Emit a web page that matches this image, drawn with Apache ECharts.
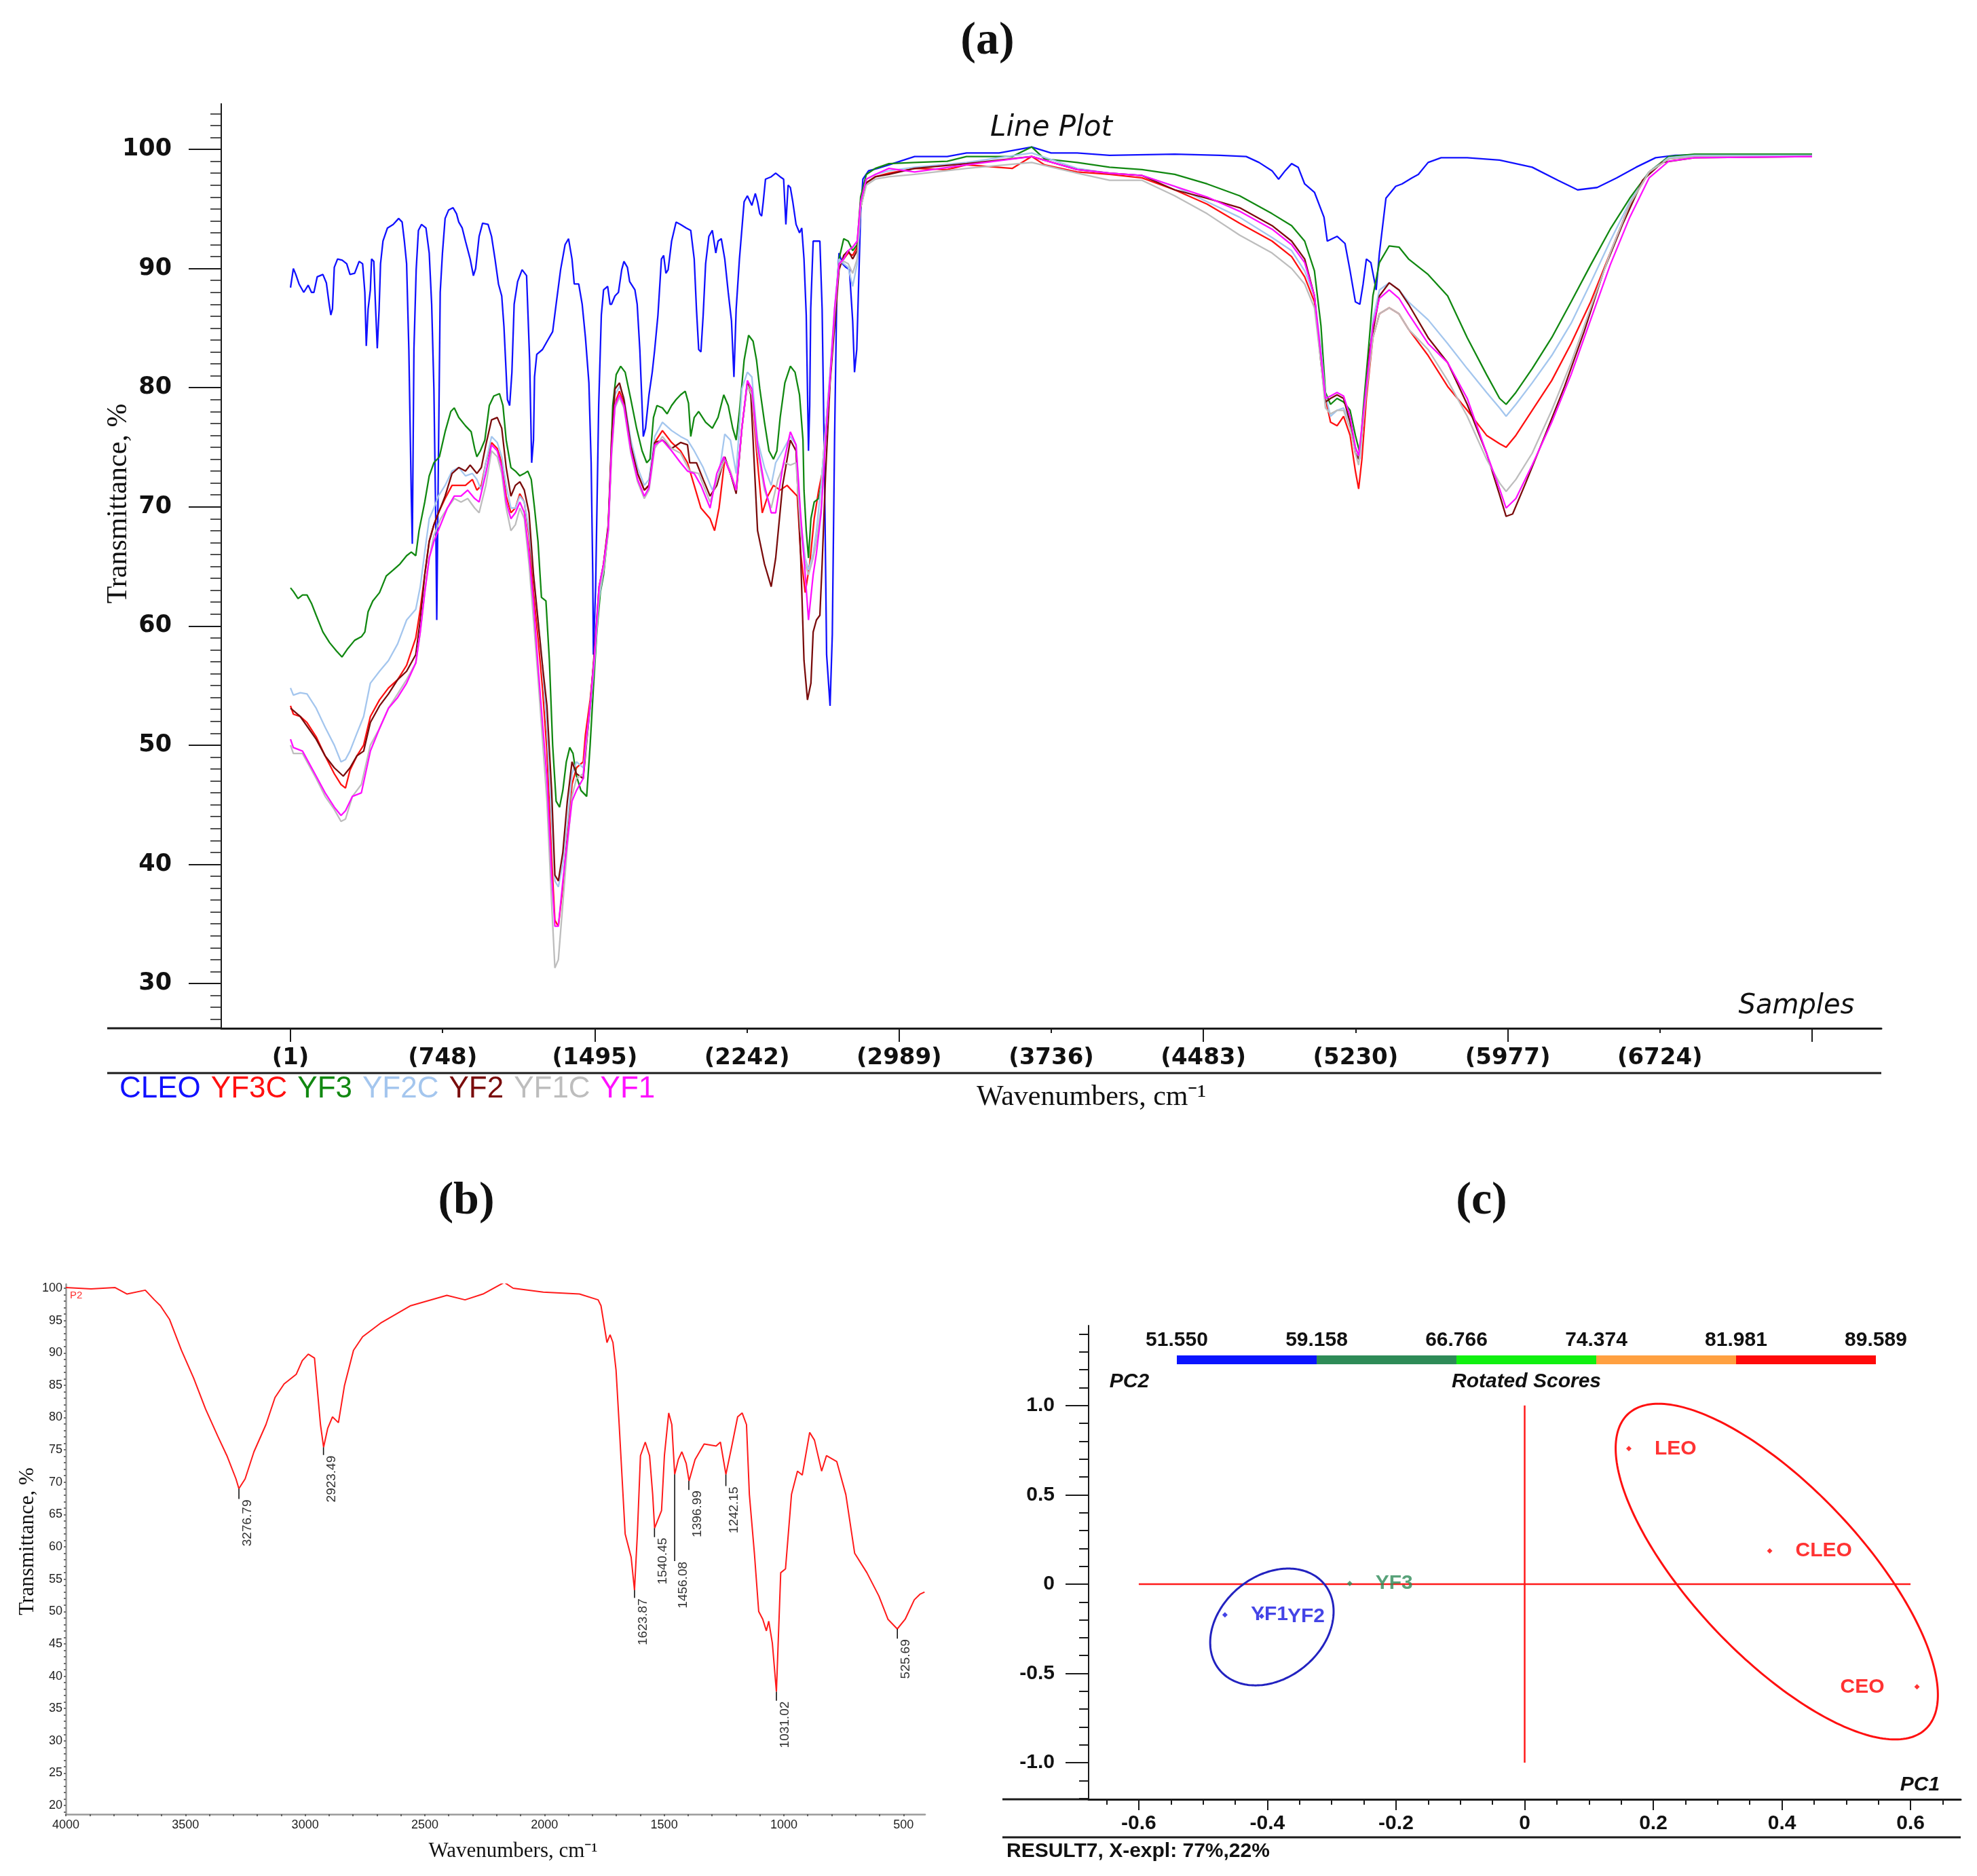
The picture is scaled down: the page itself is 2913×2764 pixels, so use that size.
<!DOCTYPE html>
<html><head><meta charset="utf-8">
<script src="https://cdn.jsdelivr.net/npm/echarts@6/dist/echarts.min.js"></script>
<style>html,body{margin:0;padding:0;background:#fff}#c{width:2913px;height:2764px}</style>
</head><body><div id="c"></div>
<script>
// ---------- Panel (a): FTIR line plot, x = sample index, y = transmittance % ----------
const seriesNames = ['CLEO','YF3C','YF3','YF2C','YF2','YF1C','YF1'];
const sampleTicks = [1,748,1495,2242,2989,3736,4483,5230,5977,6724];
const cleo = [[1,88.4],[15,90.0],[27,89.5],[43,88.7],[66,88.0],[88,88.6],[104,88.0],[116,88.0],[132,89.3],[160,89.5],[177,88.8],[191,87.0],[199,86.1],[207,86.6],[216,90.1],[232,90.8],[255,90.7],[277,90.4],[293,89.5],[316,89.6],[338,90.6],[355,90.4],[366,88.0],[373,83.5],[382,86.6],[393,88.2],[399,90.8],[410,90.6],[418,87.0],[427,83.3],[436,86.6],[443,90.4],[455,92.3],[477,93.4],[505,93.7],[532,94.2],[549,93.9],[560,92.3],[571,90.4],[582,83.2],[594,70.9],[599,66.9],[607,83.2],[618,89.9],[629,93.2],[644,93.7],[666,93.4],[682,91.3],[694,87.0],[705,79.9],[714,69.0],[719,60.5],[727,73.7],[736,88.0],[747,91.3],[760,94.2],[777,94.9],[799,95.1],[816,94.6],[827,93.9],[844,93.4],[860,92.3],[883,90.8],[899,89.4],[910,90.0],[927,92.7],[944,93.8],[971,93.7],[988,92.7],[1005,90.8],[1022,88.7],[1038,87.7],[1049,85.1],[1066,79.0],[1077,78.5],[1088,81.3],[1099,87.0],[1116,88.9],[1138,89.9],[1160,89.4],[1166,86.6],[1175,82.3],[1185,73.7],[1194,75.6],[1199,80.9],[1210,82.8],[1238,83.2],[1261,83.9],[1288,84.7],[1305,87.0],[1327,89.9],[1349,92.0],[1366,92.5],[1383,90.8],[1394,88.7],[1416,88.7],[1433,87.0],[1449,84.2],[1466,80.4],[1477,73.7],[1485,64.3],[1488,57.6],[1499,63.3],[1514,78.5],[1527,86.1],[1538,88.2],[1558,88.5],[1570,87.0],[1577,87.0],[1594,87.7],[1611,88.0],[1627,89.9],[1638,90.6],[1655,90.1],[1666,88.9],[1692,88.2],[1703,87.0],[1716,83.2],[1727,78.5],[1733,75.9],[1744,76.6],[1761,79.4],[1777,81.3],[1789,83.2],[1805,86.1],[1822,90.8],[1833,91.1],[1844,89.6],[1855,89.9],[1872,92.3],[1894,93.9],[1916,93.7],[1944,93.4],[1966,93.2],[1983,90.8],[1994,86.6],[2005,83.2],[2016,83.0],[2027,86.1],[2039,90.4],[2055,92.7],[2072,93.2],[2089,91.3],[2100,92.3],[2116,92.5],[2133,90.8],[2150,88.0],[2166,85.6],[2178,80.9],[2189,86.6],[2205,90.8],[2228,95.6],[2244,96.1],[2266,95.3],[2283,96.3],[2294,95.6],[2305,94.6],[2314,94.4],[2322,95.6],[2333,97.5],[2361,97.7],[2383,98.0],[2405,97.7],[2422,97.5],[2433,93.7],[2444,97.0],[2455,96.8],[2467,95.6],[2483,93.7],[2500,93.0],[2511,93.4],[2522,90.8],[2533,86.1],[2544,74.7],[2550,78.5],[2555,86.6],[2567,92.3],[2600,92.3],[2611,86.6],[2622,73.7],[2633,57.6],[2650,53.3],[2661,59.3],[2672,75.6],[2683,88.0],[2694,91.3],[2711,90.4],[2728,90.1],[2745,89.9],[2761,85.6],[2770,81.3],[2781,83.2],[2789,88.0],[2800,94.6],[2811,97.5],[2839,98.2],[2883,98.4],[2939,98.7],[3065,99.4],[3225,99.4],[3320,99.7],[3480,99.7],[3640,100.2],[3735,99.7],[3863,99.7],[4022,99.5],[4342,99.6],[4565,99.5],[4693,99.4],[4756,98.9],[4820,98.2],[4852,97.5],[4884,98.2],[4916,98.8],[4948,98.5],[4980,97.1],[5028,96.4],[5075,94.3],[5091,92.3],[5139,92.7],[5178,92.1],[5203,89.8],[5229,87.2],[5251,87.0],[5267,88.7],[5283,90.8],[5305,90.5],[5331,88.2],[5347,91.3],[5379,95.9],[5427,96.9],[5458,97.1],[5506,97.6],[5538,97.9],[5586,98.9],[5650,99.3],[5778,99.3],[5937,99.1],[6097,98.5],[6224,97.4],[6320,96.6],[6416,96.8],[6511,97.6],[6607,98.5],[6703,99.3],[6799,99.5],[7054,99.6],[7471,99.6]];
const yf3c = [[1,53.3],[15,52.6],[49,52.4],[82,51.9],[127,50.7],[171,49.1],[216,47.6],[249,46.7],[271,46.4],[293,47.9],[327,49.1],[360,50.0],[393,52.4],[438,53.8],[482,54.8],[527,55.5],[571,56.7],[616,59.0],[638,61.4],[660,64.3],[682,67.1],[705,68.5],[727,69.5],[760,70.7],[794,71.8],[827,71.8],[860,71.8],[894,72.3],[916,71.4],[938,71.8],[960,73.7],[988,75.4],[1016,74.9],[1038,73.7],[1060,70.9],[1083,69.5],[1105,69.9],[1127,71.1],[1149,70.4],[1172,67.6],[1194,62.8],[1216,59.0],[1238,54.8],[1260,49.5],[1283,40.5],[1299,35.3],[1316,34.8],[1338,38.1],[1360,42.4],[1383,46.7],[1405,48.1],[1438,48.6],[1449,50.9],[1472,53.8],[1494,57.6],[1516,62.8],[1538,65.2],[1561,68.3],[1577,74.7],[1594,78.7],[1616,79.7],[1638,78.7],[1672,75.1],[1705,72.8],[1738,71.4],[1761,71.8],[1789,75.4],[1827,76.4],[1872,75.4],[1916,74.7],[1950,73.7],[1983,71.8],[2016,69.9],[2061,69.0],[2083,68.0],[2105,69.9],[2133,74.0],[2161,72.8],[2189,71.4],[2217,76.6],[2244,80.4],[2266,79.4],[2294,73.7],[2317,69.5],[2344,70.9],[2372,71.8],[2405,71.4],[2439,71.8],[2461,71.4],[2489,70.9],[2505,66.2],[2528,62.8],[2550,65.2],[2572,69.0],[2594,71.4],[2611,72.8],[2628,76.6],[2650,80.9],[2672,86.1],[2694,90.4],[2717,90.8],[2739,91.3],[2761,91.1],[2783,91.8],[2800,95.6],[2828,97.2],[2872,97.7],[2939,98.0],[3065,98.4],[3225,98.3],[3320,98.7],[3544,98.4],[3640,99.4],[3703,98.7],[3863,98.1],[4022,97.9],[4182,97.6],[4342,96.6],[4501,95.4],[4661,93.8],[4820,92.3],[4916,91.0],[4980,89.3],[5028,87.2],[5060,82.7],[5082,79.1],[5107,77.1],[5139,76.8],[5171,77.6],[5203,76.0],[5229,73.0],[5245,71.5],[5261,74.0],[5283,79.1],[5315,84.2],[5347,86.2],[5395,86.7],[5443,86.2],[5490,84.9],[5586,82.7],[5682,80.1],[5778,78.1],[5873,76.0],[5937,75.3],[5969,75.0],[6017,76.0],[6097,78.1],[6193,80.6],[6288,83.7],[6384,87.2],[6480,91.3],[6576,95.4],[6671,98.1],[6767,99.2],[6894,99.4],[7471,99.4]];
const yf3 = [[1,63.2],[15,62.9],[38,62.3],[60,62.6],[82,62.6],[104,61.9],[127,60.9],[160,59.5],[193,58.6],[227,57.9],[254,57.4],[282,58.1],[316,58.8],[349,59.1],[366,59.5],[382,61.2],[405,62.1],[438,62.8],[471,64.2],[505,64.7],[538,65.2],[571,65.9],[594,66.2],[616,65.9],[632,68.0],[660,70.4],[682,72.6],[705,73.7],[732,74.2],[760,76.3],[788,78.0],[805,78.3],[827,77.5],[860,76.8],[888,76.3],[905,74.9],[916,74.2],[933,74.7],[955,75.6],[977,78.5],[999,79.3],[1027,79.5],[1044,78.5],[1060,75.6],[1083,73.3],[1105,73.0],[1127,72.6],[1149,72.8],[1166,73.0],[1183,72.3],[1199,69.9],[1216,67.1],[1233,62.4],[1255,62.1],[1272,57.1],[1288,50.0],[1305,45.3],[1322,44.8],[1338,46.2],[1355,48.6],[1372,49.8],[1388,49.3],[1405,47.4],[1427,46.2],[1455,45.7],[1472,50.0],[1488,54.8],[1505,59.5],[1522,62.8],[1538,64.3],[1561,68.1],[1572,72.8],[1583,78.5],[1600,81.1],[1622,81.8],[1644,81.3],[1672,79.0],[1700,76.6],[1727,74.7],[1750,73.7],[1766,74.0],[1783,77.5],[1800,78.5],[1827,78.3],[1850,77.8],[1872,78.5],[1894,79.0],[1916,79.4],[1939,79.7],[1955,78.7],[1966,75.9],[1983,77.5],[2005,78.0],[2039,77.1],[2072,76.6],[2100,77.5],[2128,79.4],[2150,78.5],[2172,76.6],[2189,75.6],[2205,78.0],[2228,82.3],[2250,84.4],[2272,83.9],[2289,82.3],[2305,79.9],[2328,77.1],[2350,74.7],[2372,74.0],[2389,74.7],[2405,77.5],[2428,80.4],[2455,81.8],[2478,81.3],[2500,79.4],[2517,75.6],[2522,71.4],[2533,68.0],[2544,65.7],[2556,69.0],[2572,70.4],[2594,70.7],[2611,72.3],[2628,75.6],[2650,80.9],[2672,86.1],[2694,90.8],[2717,92.5],[2739,92.3],[2761,91.5],[2783,92.0],[2800,96.0],[2828,97.9],[2872,98.4],[2939,98.8],[3065,98.9],[3225,99.0],[3320,99.4],[3544,99.4],[3640,100.2],[3703,99.2],[3863,98.9],[4022,98.5],[4182,98.3],[4342,97.9],[4501,97.1],[4661,96.1],[4820,94.6],[4916,93.6],[4980,92.3],[5028,89.8],[5060,85.2],[5082,79.6],[5107,78.6],[5139,79.1],[5171,78.8],[5203,78.1],[5229,76.0],[5251,74.5],[5267,78.1],[5293,83.2],[5315,87.7],[5347,90.5],[5395,91.9],[5443,91.8],[5490,90.8],[5586,89.5],[5682,87.7],[5778,84.2],[5873,81.1],[5937,79.1],[5969,78.6],[6017,79.6],[6097,81.6],[6193,84.2],[6288,87.2],[6384,90.3],[6480,93.3],[6576,95.9],[6671,98.1],[6767,99.4],[6894,99.6],[7471,99.6]];
const yf2c = [[1,54.8],[15,54.2],[49,54.4],[82,54.3],[127,53.1],[171,51.5],[216,50.0],[249,48.6],[271,48.8],[293,49.5],[327,51.0],[360,52.4],[393,55.2],[438,56.2],[482,57.1],[527,58.5],[571,60.5],[616,61.4],[638,63.3],[660,66.2],[682,69.0],[705,69.9],[727,70.9],[760,71.8],[794,73.0],[827,73.3],[860,72.6],[894,72.8],[916,72.3],[938,71.4],[960,73.7],[988,75.9],[1016,75.4],[1038,74.2],[1060,71.8],[1083,69.9],[1105,69.9],[1127,70.9],[1149,70.4],[1172,68.0],[1194,64.3],[1216,60.5],[1238,56.7],[1260,51.4],[1283,43.8],[1299,38.6],[1316,38.1],[1338,40.0],[1360,43.4],[1383,47.6],[1405,48.6],[1438,48.1],[1472,52.9],[1494,57.1],[1516,62.3],[1538,64.7],[1561,68.1],[1577,75.2],[1594,79.4],[1616,80.1],[1638,79.2],[1672,75.6],[1705,73.3],[1738,71.8],[1761,72.3],[1789,75.9],[1827,77.1],[1872,76.4],[1916,75.9],[1950,75.6],[1983,74.7],[2027,73.3],[2072,71.4],[2105,72.8],[2133,76.1],[2161,75.6],[2189,72.8],[2217,79.9],[2244,81.3],[2266,80.9],[2294,75.6],[2328,73.3],[2361,71.8],[2383,73.7],[2417,74.7],[2455,75.9],[2483,75.2],[2505,69.0],[2528,65.7],[2544,64.7],[2567,66.1],[2583,68.0],[2606,71.8],[2628,76.6],[2650,81.3],[2672,86.6],[2694,90.8],[2717,90.4],[2739,90.1],[2761,88.5],[2783,90.4],[2800,95.3],[2828,97.5],[2872,97.9],[2939,98.2],[3065,98.5],[3320,98.9],[3640,99.7],[3863,98.4],[4022,98.0],[4182,97.8],[4342,96.9],[4501,95.6],[4661,94.3],[4820,92.6],[4916,91.5],[4980,89.8],[5028,87.7],[5060,83.2],[5082,79.4],[5107,77.6],[5139,78.1],[5171,78.3],[5203,77.1],[5229,75.0],[5251,74.0],[5283,80.1],[5315,85.7],[5347,88.2],[5395,88.8],[5443,88.2],[5490,87.2],[5586,85.7],[5682,83.7],[5778,81.6],[5873,79.6],[5937,78.3],[5969,77.6],[6017,78.6],[6097,80.4],[6193,82.7],[6288,85.4],[6384,88.8],[6480,92.3],[6576,95.6],[6671,98.1],[6767,99.3],[6894,99.5],[7471,99.5]];
const yf2 = [[1,53.1],[49,52.4],[127,50.5],[171,49.1],[216,48.1],[260,47.4],[293,48.1],[327,49.1],[360,49.5],[393,51.9],[438,53.3],[482,54.3],[527,55.5],[571,56.2],[616,57.6],[638,60.5],[660,64.3],[682,67.1],[705,68.5],[760,70.9],[794,72.8],[827,73.3],[860,73.0],[883,73.5],[916,72.8],[938,73.3],[960,75.2],[988,77.3],[1016,77.5],[1038,76.6],[1060,73.3],[1083,70.9],[1105,71.8],[1127,72.1],[1149,71.4],[1172,69.5],[1194,64.3],[1216,60.5],[1238,56.7],[1260,53.3],[1283,46.2],[1299,39.1],[1316,38.6],[1338,41.0],[1360,45.3],[1383,48.6],[1405,47.6],[1438,47.2],[1472,53.3],[1494,58.1],[1516,63.3],[1538,65.2],[1561,68.5],[1577,75.6],[1594,79.9],[1616,80.4],[1638,79.0],[1672,75.1],[1705,72.8],[1738,71.4],[1761,71.8],[1789,75.4],[1827,75.6],[1872,74.9],[1916,75.4],[1950,75.2],[1961,73.7],[1994,73.7],[2027,72.3],[2061,70.9],[2094,71.8],[2133,74.2],[2161,72.8],[2189,71.1],[2217,76.6],[2244,80.4],[2261,79.4],[2294,68.0],[2328,65.2],[2361,63.3],[2383,65.7],[2417,71.8],[2455,75.6],[2483,74.7],[2505,66.2],[2522,57.1],[2539,53.8],[2556,55.2],[2567,59.5],[2583,60.5],[2600,60.9],[2611,65.2],[2628,72.8],[2650,80.4],[2672,85.1],[2694,89.9],[2717,91.1],[2739,91.5],[2761,90.8],[2783,91.5],[2800,95.1],[2828,97.2],[2872,97.7],[2939,97.9],[3065,98.4],[3320,98.8],[3640,99.4],[3863,98.3],[4022,98.0],[4182,97.8],[4342,96.6],[4501,95.9],[4661,95.1],[4820,93.6],[4916,92.3],[4980,90.8],[5028,87.7],[5060,82.1],[5082,78.8],[5107,79.1],[5139,79.4],[5171,79.1],[5203,77.1],[5229,74.5],[5245,74.0],[5267,77.1],[5299,83.2],[5347,87.7],[5395,88.8],[5443,88.2],[5490,87.0],[5586,84.2],[5682,82.1],[5778,78.6],[5873,74.5],[5937,71.0],[5969,69.2],[6001,69.4],[6065,72.0],[6160,76.0],[6256,80.1],[6352,84.7],[6448,89.8],[6543,93.8],[6639,97.4],[6735,98.9],[6894,99.3],[7471,99.4]];
const yf1c = [[1,50.0],[15,49.3],[60,49.3],[127,47.2],[171,45.7],[216,44.6],[249,43.6],[271,43.8],[305,45.7],[349,46.7],[393,50.0],[438,51.4],[482,53.1],[527,54.3],[571,55.5],[616,56.9],[638,59.5],[660,62.8],[682,65.7],[705,67.6],[738,69.0],[771,69.9],[805,70.7],[838,70.4],[871,70.7],[905,69.9],[927,69.5],[960,71.8],[988,74.7],[1016,74.2],[1038,72.8],[1060,69.9],[1083,68.0],[1105,68.5],[1127,69.9],[1149,69.0],[1172,65.2],[1194,60.5],[1216,55.7],[1238,50.5],[1260,45.3],[1283,36.7],[1299,31.3],[1316,32.0],[1338,36.7],[1360,41.5],[1383,45.7],[1405,47.2],[1438,47.6],[1472,53.3],[1494,57.6],[1516,62.8],[1538,64.7],[1561,67.8],[1577,74.2],[1594,78.3],[1616,79.2],[1638,78.3],[1672,74.5],[1705,72.1],[1738,70.7],[1761,71.4],[1789,74.9],[1827,75.9],[1872,74.9],[1916,74.5],[1961,73.0],[2005,72.8],[2061,70.4],[2105,72.8],[2133,74.0],[2161,73.0],[2189,71.4],[2217,76.6],[2244,80.2],[2266,79.4],[2294,74.7],[2328,71.4],[2361,69.9],[2394,72.3],[2428,73.7],[2455,73.5],[2483,73.7],[2505,68.0],[2528,65.2],[2544,64.3],[2567,65.7],[2583,67.1],[2606,69.9],[2628,75.6],[2650,80.9],[2672,86.1],[2694,90.4],[2717,90.6],[2739,90.4],[2761,89.6],[2783,90.8],[2800,95.1],[2828,97.0],[2872,97.5],[2939,97.7],[3065,97.9],[3320,98.4],[3640,98.9],[3863,98.0],[4022,97.4],[4182,97.4],[4342,96.1],[4501,94.6],[4661,92.8],[4820,91.3],[4916,90.0],[4980,88.7],[5028,86.7],[5060,82.1],[5082,78.3],[5107,77.8],[5139,78.1],[5171,78.1],[5203,76.6],[5229,74.5],[5245,73.5],[5283,79.6],[5315,84.2],[5347,86.2],[5395,86.7],[5443,86.2],[5490,84.9],[5586,83.2],[5682,80.6],[5778,77.6],[5873,74.0],[5937,72.0],[5969,71.3],[6017,72.3],[6097,74.5],[6193,78.1],[6288,82.1],[6384,86.7],[6480,91.3],[6576,95.4],[6671,98.1],[6767,99.2],[6894,99.4],[7471,99.4]];
const yf1 = [[1,50.5],[15,49.8],[60,49.5],[127,47.4],[171,46.0],[216,44.8],[249,44.1],[271,44.5],[305,45.7],[349,46.0],[393,49.5],[438,51.4],[482,53.1],[527,54.0],[571,55.2],[616,56.9],[638,59.5],[660,62.8],[682,65.7],[705,67.1],[738,68.5],[771,69.9],[805,70.9],[838,70.9],[871,71.4],[905,70.7],[927,70.4],[960,72.8],[988,75.2],[1016,74.7],[1038,73.3],[1060,70.4],[1083,69.0],[1105,69.5],[1127,70.4],[1149,69.5],[1172,66.1],[1194,61.9],[1216,56.7],[1238,51.9],[1260,47.2],[1283,39.1],[1299,34.8],[1316,34.8],[1338,38.6],[1360,41.9],[1383,45.3],[1405,46.2],[1438,47.2],[1449,50.0],[1472,53.3],[1494,57.6],[1516,63.3],[1538,65.2],[1561,68.1],[1577,74.7],[1594,78.5],[1616,79.4],[1638,78.5],[1672,74.7],[1705,72.3],[1738,70.9],[1761,71.6],[1789,75.2],[1827,75.6],[1872,74.7],[1916,73.7],[1950,73.0],[1983,72.8],[2016,71.8],[2061,69.9],[2094,72.8],[2128,74.2],[2161,72.8],[2189,71.4],[2217,76.6],[2244,80.6],[2266,79.9],[2294,75.2],[2328,71.8],[2361,69.5],[2383,69.5],[2417,73.3],[2455,76.3],[2483,75.2],[2505,69.5],[2528,64.3],[2544,60.5],[2567,64.3],[2583,66.1],[2606,69.5],[2628,75.6],[2650,80.9],[2672,86.6],[2694,90.4],[2717,90.8],[2739,91.5],[2761,91.8],[2783,92.3],[2800,95.6],[2828,97.5],[2872,97.9],[2939,98.4],[3065,98.1],[3320,98.7],[3640,99.4],[3863,98.3],[4022,98.0],[4182,97.8],[4342,96.9],[4501,96.0],[4661,94.8],[4820,93.3],[4916,92.0],[4980,90.5],[5028,87.7],[5060,82.7],[5082,79.1],[5107,79.3],[5139,79.6],[5171,79.3],[5203,77.6],[5229,75.0],[5245,74.3],[5283,80.1],[5315,85.2],[5347,87.5],[5395,88.2],[5443,87.5],[5490,86.2],[5586,83.7],[5682,82.1],[5778,79.1],[5873,74.5],[5937,71.5],[5969,69.9],[6017,70.7],[6097,73.5],[6193,77.1],[6288,81.1],[6384,85.7],[6480,90.3],[6576,94.3],[6671,97.6],[6767,99.0],[6894,99.3],[7471,99.4]];
const transTicks = [30,40,50,60,70,80,90,100];

// ---------- Panel (b): P2 spectrum, x = wavenumber cm-1 ----------
const p2Spectrum = [[4000,100.1],[3895,99.9],[3794,100.1],[3744,99.1],[3668,99.7],[3630,98.2],[3605,97.3],[3567,95.2],[3517,90.4],[3466,86.1],[3416,81.3],[3365,77.1],[3327,74.1],[3289,70.5],[3277,69.0],[3251,70.5],[3214,74.7],[3164,78.9],[3126,83.1],[3088,85.2],[3037,86.7],[3012,88.8],[2987,89.8],[2961,89.2],[2949,84.3],[2936,78.9],[2923,75.4],[2906,78.3],[2886,80.1],[2861,79.2],[2836,84.9],[2798,90.4],[2760,92.5],[2685,94.6],[2559,97.3],[2408,98.9],[2332,98.2],[2257,99.1],[2168,100.9],[2131,100.0],[2005,99.4],[1854,99.1],[1776,98.2],[1764,97.3],[1739,91.6],[1726,92.8],[1714,91.6],[1701,87.3],[1688,78.9],[1663,62.0],[1638,58.4],[1624,53.3],[1612,62.0],[1599,74.1],[1579,76.2],[1561,74.1],[1548,68.1],[1540,62.9],[1511,65.6],[1499,74.1],[1481,80.7],[1468,78.9],[1456,71.2],[1441,73.5],[1426,74.7],[1408,72.9],[1396,70.2],[1371,73.5],[1333,75.9],[1283,75.6],[1265,76.2],[1242,71.2],[1219,75.3],[1193,80.1],[1174,80.7],[1156,78.9],[1144,68.1],[1123,59.0],[1105,50.0],[1088,48.8],[1073,47.0],[1063,48.5],[1048,45.1],[1031,37.6],[1013,56.0],[993,56.6],[968,68.1],[943,71.7],[923,71.1],[892,77.7],[872,76.5],[842,71.7],[822,74.1],[779,73.2],[741,68.1],[704,59.0],[653,56.0],[603,52.4],[565,48.8],[526,47.3],[493,48.8],[455,51.8],[430,52.7],[412,53.0]];
const peakWn = [3276.79,2923.49,1623.87,1540.45,1456.08,1396.99,1242.15,1031.02,525.69];
const peakTop = [69.0,75.4,53.3,62.9,71.2,70.2,71.2,37.6,47.3];
const peakEnd = [67.4,74.2,52.1,61.5,57.8,68.8,69.4,36.2,45.8];
const wnTicks = [4000,3500,3000,2500,2000,1500,1000,500];
const bTransTicks = [20,25,30,35,40,45,50,55,60,65,70,75,80,85,90,95,100];

// ---------- Panel (c): PCA rotated scores ----------
const scoreNames = ['LEO','CLEO','CEO','YF3','YF1','YF2'];
const scorePC1 = [0.162,0.381,0.610,-0.272,-0.466,-0.409];
const scorePC2 = [0.759,0.186,-0.575,0.004,-0.172,-0.180];
const scoreGroup = ['EO','EO','EO','YF3','YF','YF'];
const ellipseGroup = ['EO','YF'];
const ellipseCenterPC1 = [0.392,-0.393];
const ellipseCenterPC2 = [0.070,-0.240];
const ellipseAxisAPC1 = [-0.184,0.0255];
const ellipseAxisAPC2 = [0.940,0.327];
const ellipseAxisBPC1 = [0.170,0.0925];
const crossPC1 = [-0.6,0.6];
const crossPC2 = [-1.0,1.0];
const pc1Ticks = [-0.6,-0.4,-0.2,0,0.2,0.4,0.6];
const pc2Ticks = [-1.0,-0.5,0,0.5,1.0];
const scaleTicks = [51.550,59.158,66.766,74.374,81.981,89.589];

// ---------- styles ----------
const lineColors = {CLEO:'#1010ff',YF3C:'#ff1010',YF3:'#118811',YF2C:'#a4c6ee',YF2:'#7a0c0c',YF1C:'#bdbdbd',YF1:'#ff10ff'};
const groupColors = {EO:'#ff0000',YF3:'#2e8b57',YF:'#1515e0'};
const ellipseColors = {EO:'#ff1010',YF:'#2222c0'};
const scaleColors = ['#0a14ff','#2e8b57','#10f010','#ffa040','#ff0a0a'];
const aSeriesData = {CLEO:cleo,YF3C:yf3c,YF3:yf3,YF2C:yf2c,YF2:yf2,YF1C:yf1c,YF1:yf1};

const range = (a,b,s)=>{const r=[];for(let v=a;v<=b+1e-9;v+=s)r.push(Math.round(v*1000)/1000);return r;};
const chart = echarts.init(document.getElementById('c'), null, {renderer:'canvas'});
const fA = '"DejaVu Sans"', fS = '"Liberation Serif"', fL = '"Liberation Sans"';

const option = {
  backgroundColor:'#fff',
  animation:false,
  grid:[
    {left:326, top:153, width:2446, height:1362},
    {left:97, top:1892, width:1266, height:781},
    {left:1604, top:1953, width:1285, height:698},
    {left:1734, top:1997, width:1030, height:13}
  ],
  legend:{
    left:171, top:1583, padding:0, itemGap:10, itemWidth:0, itemHeight:10, icon:'none', selectedMode:false,
    textStyle:{fontSize:44, fontFamily:fL},
    data: seriesNames.map(n=>({name:n, icon:'none', textStyle:{color:lineColors[n]}}))
  },
  xAxis:[
    {gridIndex:0, type:'value', min:-339, max:7811, position:'bottom',
      axisLine:{show:true, onZero:false, lineStyle:{color:'#1a1a1a', width:3}},
      axisTick:{show:true, customValues:[1,1495,2989,4483,5977,7471], length:20, lineStyle:{color:'#1a1a1a', width:2}},
      axisLabel:{customValues:sampleTicks, formatter:v=>'('+v+')', fontSize:34, fontWeight:'bold', fontFamily:fA, color:'#111', margin:27},
      splitLine:{show:false}},
    {gridIndex:0, type:'value', min:-339, max:7811, position:'bottom',
      axisLine:{show:false, onZero:false},
      axisTick:{show:true, customValues:[748,2242,3736,5230,6724], length:7, lineStyle:{color:'#1a1a1a', width:2}},
      axisLabel:{show:false}, splitLine:{show:false}},
    {gridIndex:1, type:'value', min:410, max:4000, inverse:true, position:'bottom',
      axisLine:{show:true, onZero:false, lineStyle:{color:'#9a9a9a', width:2.5}},
      axisTick:{show:true, customValues:range(500,4000,100), length:3, lineStyle:{color:'#444', width:1.5}},
      axisLabel:{customValues:wnTicks, formatter:v=>String(v), fontSize:18, fontFamily:fL, color:'#222', margin:7},
      splitLine:{show:false}},
    {gridIndex:2, type:'value', min:-0.678, max:0.678, position:'bottom',
      axisLine:{show:true, onZero:false, lineStyle:{color:'#1a1a1a', width:3}},
      axisTick:{show:true, customValues:pc1Ticks, length:16, lineStyle:{color:'#1a1a1a', width:2}},
      axisLabel:{customValues:pc1Ticks, formatter:v=>Math.abs(v)<1e-9?'0':v.toFixed(1), fontSize:30, fontWeight:'bold', fontFamily:fL, color:'#111', margin:21},
      splitLine:{show:false}},
    {gridIndex:2, type:'value', min:-0.678, max:0.678, position:'bottom',
      axisLine:{show:false, onZero:false},
      axisTick:{show:true, customValues:range(-0.65,0.65,0.05), length:8, lineStyle:{color:'#1a1a1a', width:2}},
      axisLabel:{show:false}, splitLine:{show:false}},
    {gridIndex:3, type:'value', min:51.55, max:89.589, position:'top',
      axisLine:{show:false, onZero:false}, axisTick:{show:false},
      axisLabel:{customValues:scaleTicks, formatter:v=>v.toFixed(3), fontSize:30, fontWeight:'bold', fontFamily:fL, color:'#111', margin:7},
      splitLine:{show:false}}
  ],
  yAxis:[
    {gridIndex:0, type:'value', min:26.24, max:103.82, position:'left',
      axisLine:{show:true, onZero:false, lineStyle:{color:'#1a1a1a', width:2}},
      axisTick:{show:true, customValues:transTicks, length:48, lineStyle:{color:'#1a1a1a', width:2}},
      axisLabel:{customValues:transTicks, fontSize:35, fontWeight:'bold', fontFamily:fA, color:'#111', margin:73},
      splitLine:{show:false}},
    {gridIndex:0, type:'value', min:26.24, max:103.82, position:'left',
      axisLine:{show:false, onZero:false},
      axisTick:{show:true, customValues:range(27,103,1), length:16, lineStyle:{color:'#1a1a1a', width:1.5}},
      axisLabel:{show:false}, splitLine:{show:false}},
    {gridIndex:1, type:'value', min:18.64, max:100.63, position:'left',
      axisLine:{show:true, onZero:false, lineStyle:{color:'#9a9a9a', width:2.5}},
      axisTick:{show:true, customValues:range(19,100,1), length:3, lineStyle:{color:'#444', width:1.5}},
      axisLabel:{customValues:bTransTicks, fontSize:18, fontFamily:fL, color:'#222', margin:5},
      splitLine:{show:false}},
    {gridIndex:2, type:'value', min:-1.205, max:1.448, position:'left',
      axisLine:{show:true, onZero:false, lineStyle:{color:'#1a1a1a', width:2}},
      axisTick:{show:true, customValues:pc2Ticks, length:34, lineStyle:{color:'#1a1a1a', width:2}},
      axisLabel:{customValues:pc2Ticks, formatter:v=>Math.abs(v)<1e-9?'0':v.toFixed(1), fontSize:30, fontWeight:'bold', fontFamily:fL, color:'#111', margin:50},
      splitLine:{show:false}},
    {gridIndex:2, type:'value', min:-1.205, max:1.448, position:'left',
      axisLine:{show:false, onZero:false},
      axisTick:{show:true, customValues:range(-1.2,1.4,0.1), length:14, lineStyle:{color:'#1a1a1a', width:2}},
      axisLabel:{show:false}, splitLine:{show:false}},
    {gridIndex:3, type:'value', min:0, max:1, show:false}
  ],
  series:[],
  graphic:{elements:[]}
};

// panel (a) lines
seriesNames.forEach(n=>{
  option.series.push({name:n, type:'line', xAxisIndex:0, yAxisIndex:0, data:aSeriesData[n], showSymbol:false, symbol:'none',
    lineStyle:{color:lineColors[n], width:2.3}, itemStyle:{color:lineColors[n]}, z:3});
});
// panel (b) spectrum
option.series.push({name:'P2', type:'line', xAxisIndex:2, yAxisIndex:2, data:p2Spectrum, showSymbol:false, symbol:'none',
  lineStyle:{color:'#ff1a1a', width:2}, z:3});
// panel (b) peak markers
option.series.push({name:'peaks', type:'custom', coordinateSystem:'cartesian2d', xAxisIndex:2, yAxisIndex:2, clip:false,
  data: peakWn.map((w,i)=>[w, peakTop[i], peakEnd[i]]),
  renderItem:(params, api)=>{
    const w = api.value(0), p0 = api.coord([w, api.value(1)]), p1 = api.coord([w, api.value(2)]);
    return {type:'group', children:[
      {type:'line', shape:{x1:p0[0], y1:p0[1], x2:p1[0], y2:p1[1]}, style:{stroke:'#111', lineWidth:1.6}},
      {type:'text', x:p1[0]+3, y:p1[1]+1, rotation:Math.PI/2,
        style:{text:w.toFixed(2), font:'19px '+fL, fill:'#333', align:'right', verticalAlign:'top', textAlign:'right', textVerticalAlign:'top'}}
    ]};
  }, z:4});
// panel (c) cross lines
option.series.push({name:'axisH', type:'line', xAxisIndex:3, yAxisIndex:3, data:[[crossPC1[0],0],[crossPC1[1],0]], showSymbol:false, symbol:'none', lineStyle:{color:'#ff1a1a', width:2.5}, z:2});
option.series.push({name:'axisV', type:'line', xAxisIndex:3, yAxisIndex:3, data:[[0,crossPC2[0]],[0,crossPC2[1]]], showSymbol:false, symbol:'none', lineStyle:{color:'#ff1a1a', width:2.5}, z:2});
// panel (c) ellipses
option.series.push({name:'ellipses', type:'custom', coordinateSystem:'cartesian2d', xAxisIndex:3, yAxisIndex:3, clip:false,
  data: ellipseGroup.map((g,i)=>[ellipseCenterPC1[i], ellipseCenterPC2[i], ellipseAxisAPC1[i], ellipseAxisAPC2[i], ellipseAxisBPC1[i]]),
  renderItem:(params, api)=>{
    const cx=api.value(0), cy=api.value(1), ax=api.value(2), ay=api.value(3), bx=api.value(4);
    const pts=[];
    for(let k=0;k<=240;k++){const t=k/240*2*Math.PI; pts.push(api.coord([cx+ax*Math.cos(t)+bx*Math.sin(t), cy+ay*Math.cos(t)]));}
    return {type:'polyline', shape:{points:pts}, style:{stroke:ellipseColors[ellipseGroup[params.dataIndex]], lineWidth:3, fill:'none'}};
  }, z:3});
// panel (c) scores
option.series.push({name:'scores', type:'scatter', xAxisIndex:3, yAxisIndex:3, symbol:'diamond', symbolSize:8, z:5,
  data: scoreNames.map((n,i)=>({name:n, value:[scorePC1[i], scorePC2[i]],
    itemStyle:{color:groupColors[scoreGroup[i]]},
    label:{show:true, formatter:'{b}', position:(n==='CEO'?'left':'right'), distance:(n==='CEO'?44:34),
      color:groupColors[scoreGroup[i]], fontSize:30, fontWeight:'bold', fontFamily:fL}}))
});
// colour scale bar
option.series.push({name:'scale', type:'custom', coordinateSystem:'cartesian2d', xAxisIndex:5, yAxisIndex:5, clip:false,
  data: scaleTicks.slice(0,-1).map((t,i)=>[t, scaleTicks[i+1]]),
  renderItem:(params, api)=>{
    const a = api.coord([api.value(0),1]), b = api.coord([api.value(1),0]);
    return {type:'rect', shape:{x:a[0], y:a[1], width:b[0]-a[0], height:b[1]-a[1]}, style:{fill:scaleColors[params.dataIndex]}};
  }});

// decorations / titles
const G = option.graphic.elements;
const txt = (x,y,text,font,fill,align,rot)=>G.push({type:'text', x:x, y:y, rotation:rot||0, silent:true,
  style:{text:text, font:font, fill:fill||'#111', align:align||'center', verticalAlign:'middle', textAlign:align||'center', textVerticalAlign:'middle'}});
const hl = (x1,x2,y,w)=>G.push({type:'line', silent:true, shape:{x1:x1,y1:y,x2:x2,y2:y}, style:{stroke:'#1a1a1a', lineWidth:w||3}});
// (a)
txt(1455,61,'(a)','bold 68px '+fS);
txt(1549,189,'Line Plot','italic 42px '+fA);
txt(2647,1483,'Samples','italic 40px '+fA);
txt(175,742,'Transmittance, %','42px '+fS,'#111','center',Math.PI/2);
txt(1608,1617,'Wavenumbers, cm\u207B\u00B9','42px '+fS);
hl(158,326,1515,3);
hl(158,2772,1581,3);
// (b)
txt(687,1770,'(b)','bold 68px '+fS);
txt(41,2271,'Transmittance, %','31px '+fS,'#111','center',Math.PI/2);
txt(756,2728,'Wavenumbers, cm\u207B\u00B9','31px '+fS);
txt(103,1909,'P2','15px '+fL,'#ff3030','left');
// (c)
txt(2183,1770,'(c)','bold 68px '+fS);
txt(1664,2036,'PC2','italic bold 30px '+fL);
txt(2249,2036,'Rotated Scores','italic bold 30px '+fL);
txt(2829,2630,'PC1','italic bold 30px '+fL);
txt(1483,2728,'RESULT7, X-expl: 77%,22%','bold 30px '+fL,'#111','left');
hl(1477,1604,2651,3);
hl(1477,2889,2707,3);

chart.setOption(option);
</script>
</body></html>
